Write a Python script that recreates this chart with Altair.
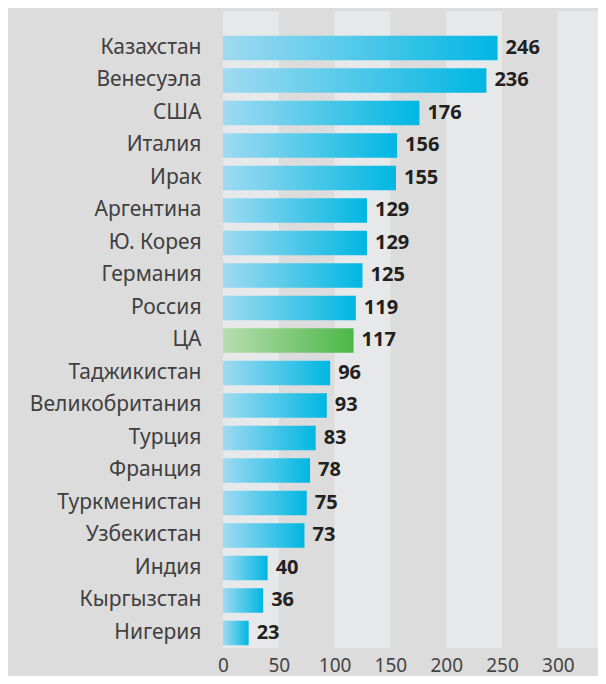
import altair as alt
import pandas as pd

countries = ["Казахстан", "Венесуэла", "США", "Италия", "Ирак", "Аргентина",
             "Ю. Корея", "Германия", "Россия", "ЦА", "Таджикистан",
             "Великобритания", "Турция", "Франция", "Туркменистан",
             "Узбекистан", "Индия", "Кыргызстан", "Нигерия"]
values = [246, 236, 176, 156, 155, 129, 129, 125, 119, 117, 96, 93, 83, 78,
          75, 73, 40, 36, 23]
highlight = ["ЦА"]
stripe_start = [0, 100, 200, 300]
stripe_end = [50, 150, 250, 350]
x_ticks = [0, 50, 100, 150, 200, 250, 300]

df = pd.DataFrame({
    "country": countries,
    "value": values,
    "group": ["ca" if c in highlight else "other" for c in countries],
})
stripes = pd.DataFrame({"start": stripe_start, "end": stripe_end})

FONT = "Noto Sans"
xscale = alt.Scale(domain=[0, 336], nice=False, zero=True)
yscale = alt.Scale(domain=countries, paddingInner=0.246, paddingOuter=0.423, align=0.9)

xaxis = alt.Axis(values=x_ticks, title=None, domain=False, ticks=False, grid=False,
                 labelFontSize=19, labelColor="#444444", labelPadding=8,
                 labelBaseline="top", labelFont=FONT, labelFlush=False)
yaxis = alt.Axis(title=None, domain=False, ticks=False, grid=False,
                 labelFontSize=21, labelColor="#404040", labelPadding=22,
                 labelFont=FONT, labelLimit=300)

blue = alt.Gradient(gradient="linear",
                    stops=[alt.GradientStop(color="#a0daf1", offset=0),
                           alt.GradientStop(color="#00b7e2", offset=1)],
                    x1=0, x2=1, y1=0, y2=0)
green = alt.Gradient(gradient="linear",
                     stops=[alt.GradientStop(color="#b8ddb0", offset=0),
                            alt.GradientStop(color="#4bb847", offset=1)],
                     x1=0, x2=1, y1=0, y2=0)

stripe_layer = alt.Chart(stripes).mark_rect(color="#e7e8ea", clip=True).encode(
    x=alt.X("start:Q", scale=xscale, axis=xaxis),
    x2="end:Q",
)

base = alt.Chart(df).encode(
    y=alt.Y("country:N", scale=yscale, axis=yaxis, sort=None),
)

bars_blue = base.transform_filter(alt.datum.group == "other").mark_bar(color=blue).encode(
    x=alt.X("value:Q", scale=xscale, axis=xaxis),
)
bars_green = base.transform_filter(alt.datum.group == "ca").mark_bar(color=green).encode(
    x=alt.X("value:Q", scale=xscale, axis=xaxis),
)
labels = base.mark_text(align="left", baseline="middle", dx=8, font=FONT,
                        fontSize=20, fontWeight="bold", color="#231f20").encode(
    x=alt.X("value:Q", scale=xscale, axis=xaxis),
    text=alt.Text("value:Q"),
)

chart = alt.layer(stripe_layer, bars_blue, bars_green, labels).properties(
    width=375,
    height=637,
    autosize="none",
    padding={"left": 215, "top": 3, "right": 0, "bottom": 28},
    background="#dcdcdc",
).configure_view(strokeWidth=0, fill=None)

chart.save("out.html", embed_options={"renderer": "svg", "actions": False})
